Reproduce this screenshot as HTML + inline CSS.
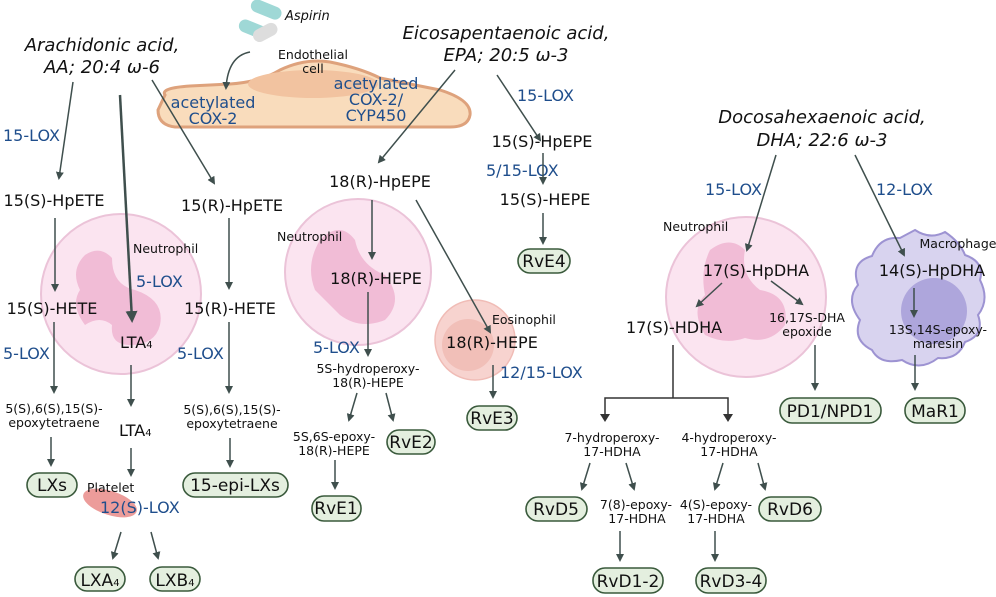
<!DOCTYPE html>
<html><head><meta charset="utf-8"><style>
html,body{margin:0;padding:0;background:#fff;width:996px;height:597px;overflow:hidden}
svg{display:block}
text{font-family:"DejaVu Sans","Liberation Sans",sans-serif;fill:#111}
.b{fill:#1f4e8c}
.m{font-size:16px}
.k{font-size:17px}
.s{font-size:12.5px}
.t{font-size:18px;font-style:italic}
.bx{fill:#e4efdf;stroke:#3a5a3c;stroke-width:1.6}
.a{stroke:#3f4f4d;stroke-width:1.5;fill:none;marker-end:url(#ah)}
</style></head><body>
<svg width="996" height="597" viewBox="0 0 996 597" xmlns="http://www.w3.org/2000/svg">
<defs>
<marker id="ah" markerWidth="8" markerHeight="8" refX="6" refY="4" orient="auto" markerUnits="userSpaceOnUse"><path d="M0,0 L8,4 L0,8 Z" fill="#3f4f4d"/></marker>
<marker id="ah2" markerWidth="12" markerHeight="12" refX="9" refY="6" orient="auto" markerUnits="userSpaceOnUse"><path d="M0,0 L12,6 L0,12 Z" fill="#3f4f4d"/></marker>
</defs>

<path d="M165,95 Q160,88 190,86 L230,84 Q260,82 280,70 Q305,58 330,62 Q360,68 380,78 L440,90 Q472,100 470,115 Q468,127 450,127 L175,127 Q158,125 158,110 Z" fill="#f9dcbc" stroke="#dea27c" stroke-width="3"/>
<ellipse cx="313" cy="84" rx="65" ry="14" fill="#f2c3a0"/>

<circle cx="121" cy="294" r="80" fill="#fbe4f0" stroke="#ebc3d8" stroke-width="2"/>
<path d="M85,255 Q100,245 112,258 Q112,285 135,290 Q165,300 160,325 Q155,345 130,345 Q110,345 112,325 Q100,315 85,325 Q70,305 80,290 Q70,270 85,255 Z" fill="#f1bcd6"/>
<circle cx="358" cy="272" r="73" fill="#fbe4f0" stroke="#ebc3d8" stroke-width="2"/>
<path d="M320,240 Q340,220 355,240 Q360,265 385,275 Q405,300 385,320 Q360,330 340,315 Q325,300 315,290 Q305,265 320,240 Z" fill="#f1bcd6"/>
<circle cx="746" cy="297" r="80" fill="#fbe4f0" stroke="#ebc3d8" stroke-width="2"/>
<path d="M710,250 Q730,235 745,250 Q740,275 760,290 Q790,295 785,325 Q770,345 745,338 Q725,345 705,335 Q690,310 705,295 Q700,270 710,250 Z" fill="#f1bcd6"/>
<path d="M915,230 Q930,240 945,232 Q960,242 965,255 Q985,262 980,280 Q990,300 978,315 Q985,335 965,342 Q958,360 938,358 Q920,372 902,360 Q880,365 872,350 Q852,340 860,320 Q845,300 858,285 Q850,262 872,256 Q880,236 900,238 Z" fill="#d8d3ef" stroke="#9d93d2" stroke-width="2"/>
<circle cx="934" cy="311" r="33" fill="#aea6dc"/>
<circle cx="475" cy="340" r="40" fill="#f7d3cf" stroke="#f0bcb6" stroke-width="1.5"/>
<circle cx="468" cy="345" r="26" fill="#f1bfb8"/>
<ellipse cx="110" cy="503" rx="28" ry="12" transform="rotate(18 110 503)" fill="#ec9c9a"/>

<rect x="250" y="3" width="32" height="13" rx="6.5" transform="rotate(22 266 10)" fill="#9fd8d6"/>
<rect x="238" y="23" width="32" height="13" rx="6.5" transform="rotate(22 254 30)" fill="#9fd8d6"/>
<rect x="252" y="26" width="26" height="13" rx="6.5" transform="rotate(-28 265 32)" fill="#ddd"/>
<text x="285" y="20" class="s" style="font-style:italic;font-size:13px">Aspirin</text>

<text x="102" y="51" class="t" text-anchor="middle">Arachidonic acid,</text>
<text x="102" y="73" class="t" text-anchor="middle">AA; 20:4 ω-6</text>
<text x="506" y="39" class="t" text-anchor="middle">Eicosapentaenoic acid,</text>
<text x="506" y="61" class="t" text-anchor="middle">EPA; 20:5 ω-3</text>
<text x="822" y="123" class="t" text-anchor="middle">Docosahexaenoic acid,</text>
<text x="822" y="146" class="t" text-anchor="middle">DHA; 22:6 ω-3</text>

<text x="313" y="59" class="s" text-anchor="middle">Endothelial</text>
<text x="313" y="73" class="s" text-anchor="middle">cell</text>
<text x="213" y="108" class="m b" text-anchor="middle">acetylated</text>
<text x="213" y="124" class="m b" text-anchor="middle">COX-2</text>
<text x="376" y="89" class="m b" text-anchor="middle">acetylated</text>
<text x="376" y="105" class="m b" text-anchor="middle">COX-2/</text>
<text x="376" y="121" class="m b" text-anchor="middle">CYP450</text>
<path d="M250,52 Q228,56 226,88" class="a"/>

<text x="3" y="141" class="m b">15-LOX</text>
<line x1="73" y1="82" x2="59" y2="178" class="a"/>
<text x="54" y="206" class="m" text-anchor="middle">15(S)-HpETE</text>
<line x1="55" y1="218" x2="55" y2="290" class="a"/>
<text x="52" y="314" class="m" text-anchor="middle">15(S)-HETE</text>
<text x="3" y="359" class="m b">5-LOX</text>
<line x1="54" y1="322" x2="54" y2="392" class="a"/>
<text x="54" y="413" class="s" text-anchor="middle">5(S),6(S),15(S)-</text>
<text x="54" y="427" class="s" text-anchor="middle">epoxytetraene</text>
<line x1="51" y1="437" x2="51" y2="465" class="a"/>
<rect x="27" y="473" width="50" height="24" rx="12" class="bx"/>
<text x="52" y="491" class="k" text-anchor="middle">LXs</text>

<line x1="120" y1="95" x2="132" y2="320" stroke="#3f4f4d" stroke-width="2.5" marker-end="url(#ah2)"/>
<text x="133" y="253" class="s">Neutrophil</text>
<text x="136" y="287" class="m b">5-LOX</text>
<text x="120" y="348" class="m">LTA<tspan font-size="10">4</tspan></text>
<line x1="131" y1="365" x2="131" y2="405" class="a"/>
<text x="119" y="436" class="m">LTA<tspan font-size="10">4</tspan></text>
<line x1="131" y1="448" x2="131" y2="475" class="a"/>
<text x="87" y="492" class="s">Platelet</text>
<text x="100" y="513" class="m b">12(S)-LOX</text>
<line x1="121" y1="532" x2="113" y2="558" class="a"/>
<line x1="151" y1="532" x2="158" y2="558" class="a"/>
<rect x="75" y="567" width="50" height="24" rx="12" class="bx"/>
<text x="100" y="586" class="k" text-anchor="middle">LXA<tspan font-size="10">4</tspan></text>
<rect x="150" y="567" width="50" height="24" rx="12" class="bx"/>
<text x="175" y="586" class="k" text-anchor="middle">LXB<tspan font-size="10">4</tspan></text>

<line x1="152" y1="80" x2="214" y2="183" class="a"/>
<text x="232" y="211" class="m" text-anchor="middle">15(R)-HpETE</text>
<line x1="229" y1="218" x2="229" y2="288" class="a"/>
<text x="230" y="314" class="m" text-anchor="middle">15(R)-HETE</text>
<text x="177" y="359" class="m b">5-LOX</text>
<line x1="229" y1="322" x2="229" y2="392" class="a"/>
<text x="232" y="414" class="s" text-anchor="middle">5(S),6(S),15(S)-</text>
<text x="232" y="428" class="s" text-anchor="middle">epoxytetraene</text>
<line x1="230" y1="438" x2="230" y2="466" class="a"/>
<rect x="183" y="473" width="105" height="24" rx="12" class="bx"/>
<text x="235" y="491" class="k" text-anchor="middle">15-epi-LXs</text>

<line x1="455" y1="70" x2="379" y2="162" class="a"/>
<text x="380" y="187" class="m" text-anchor="middle">18(R)-HpEPE</text>
<text x="277" y="241" class="s">Neutrophil</text>
<line x1="372" y1="200" x2="372" y2="258" class="a"/>
<text x="376" y="284" class="m" text-anchor="middle">18(R)-HEPE</text>
<text x="313" y="353" class="m b">5-LOX</text>
<line x1="368" y1="292" x2="368" y2="355" class="a"/>
<text x="368" y="373" class="s" text-anchor="middle">5S-hydroperoxy-</text>
<text x="368" y="387" class="s" text-anchor="middle">18(R)-HEPE</text>
<line x1="357" y1="393" x2="349" y2="420" class="a"/>
<line x1="386" y1="393" x2="393" y2="420" class="a"/>
<text x="334" y="441" class="s" text-anchor="middle">5S,6S-epoxy-</text>
<text x="334" y="455" class="s" text-anchor="middle">18(R)-HEPE</text>
<rect x="387" y="430" width="48" height="24" rx="12" class="bx"/>
<text x="411" y="448" class="k" text-anchor="middle">RvE2</text>
<line x1="335" y1="460" x2="335" y2="488" class="a"/>
<rect x="312" y="496" width="49" height="25" rx="12" class="bx"/>
<text x="336" y="514" class="k" text-anchor="middle">RvE1</text>

<line x1="416" y1="200" x2="490" y2="332" class="a"/>
<text x="492" y="324" class="s">Eosinophil</text>
<text x="492" y="348" class="m" text-anchor="middle">18(R)-HEPE</text>
<text x="500" y="378" class="m b">12/15-LOX</text>
<line x1="493" y1="365" x2="493" y2="397" class="a"/>
<rect x="467" y="406" width="50" height="24" rx="12" class="bx"/>
<text x="492" y="424" class="k" text-anchor="middle">RvE3</text>

<line x1="497" y1="75" x2="540" y2="140" class="a"/>
<text x="517" y="101" class="m b">15-LOX</text>
<text x="542" y="147" class="m" text-anchor="middle">15(S)-HpEPE</text>
<text x="486" y="176" class="m b">5/15-LOX</text>
<line x1="543" y1="153" x2="543" y2="183" class="a"/>
<text x="545" y="205" class="m" text-anchor="middle">15(S)-HEPE</text>
<line x1="543" y1="213" x2="543" y2="243" class="a"/>
<rect x="518" y="249" width="52" height="24" rx="12" class="bx"/>
<text x="544" y="267" class="k" text-anchor="middle">RvE4</text>

<line x1="776" y1="155" x2="747" y2="250" class="a"/>
<text x="705" y="195" class="m b">15-LOX</text>
<line x1="855" y1="155" x2="904" y2="255" class="a"/>
<text x="876" y="195" class="m b">12-LOX</text>
<text x="663" y="231" class="s">Neutrophil</text>
<text x="756" y="276" class="m" text-anchor="middle">17(S)-HpDHA</text>
<line x1="722" y1="283" x2="697" y2="306" class="a"/>
<line x1="771" y1="281" x2="802" y2="304" class="a"/>
<text x="674" y="333" class="m" text-anchor="middle">17(S)-HDHA</text>
<text x="807" y="322" class="s" text-anchor="middle">16,17S-DHA</text>
<text x="807" y="336" class="s" text-anchor="middle">epoxide</text>
<line x1="815" y1="345" x2="815" y2="389" class="a"/>
<rect x="780" y="398" width="101" height="25" rx="12" class="bx"/>
<text x="830" y="417" class="k" text-anchor="middle">PD1/NPD1</text>
<text x="958" y="248" class="s" text-anchor="middle">Macrophage</text>
<text x="932" y="276" class="m" text-anchor="middle">14(S)-HpDHA</text>
<line x1="914" y1="288" x2="914" y2="316" class="a"/>
<text x="938" y="334" class="s" text-anchor="middle">13S,14S-epoxy-</text>
<text x="938" y="348" class="s" text-anchor="middle">maresin</text>
<line x1="915" y1="355" x2="915" y2="389" class="a"/>
<rect x="905" y="398" width="60" height="25" rx="12" class="bx"/>
<text x="935" y="417" class="k" text-anchor="middle">MaR1</text>

<polyline points="673,345 673,398" stroke="#333" stroke-width="1.5" fill="none"/>
<polyline points="605,416 605,398 728,398 728,416" stroke="#333" stroke-width="1.5" fill="none"/>
<path d="M600,414 L610,414 L605,422 Z" fill="#333"/><path d="M723,414 L733,414 L728,422 Z" fill="#333"/>
<text x="612" y="442" class="s" text-anchor="middle">7-hydroperoxy-</text>
<text x="612" y="456" class="s" text-anchor="middle">17-HDHA</text>
<text x="729" y="442" class="s" text-anchor="middle">4-hydroperoxy-</text>
<text x="729" y="456" class="s" text-anchor="middle">17-HDHA</text>
<line x1="590" y1="463" x2="582" y2="489" class="a"/>
<line x1="626" y1="463" x2="634" y2="489" class="a"/>
<line x1="723" y1="463" x2="715" y2="489" class="a"/>
<line x1="758" y1="463" x2="765" y2="489" class="a"/>
<rect x="526" y="497" width="61" height="24" rx="12" class="bx"/>
<text x="556" y="515" class="k" text-anchor="middle">RvD5</text>
<text x="636" y="509" class="s" text-anchor="middle">7(8)-epoxy-</text>
<text x="637" y="523" class="s" text-anchor="middle">17-HDHA</text>
<text x="716" y="509" class="s" text-anchor="middle">4(S)-epoxy-</text>
<text x="716" y="523" class="s" text-anchor="middle">17-HDHA</text>
<rect x="759" y="497" width="62" height="24" rx="12" class="bx"/>
<text x="790" y="515" class="k" text-anchor="middle">RvD6</text>
<line x1="620" y1="531" x2="620" y2="560" class="a"/>
<line x1="715" y1="531" x2="715" y2="560" class="a"/>
<rect x="593" y="568" width="70" height="25" rx="12" class="bx"/>
<text x="628" y="587" class="k" text-anchor="middle">RvD1-2</text>
<rect x="696" y="568" width="70" height="25" rx="12" class="bx"/>
<text x="731" y="587" class="k" text-anchor="middle">RvD3-4</text>
</svg>
</body></html>
